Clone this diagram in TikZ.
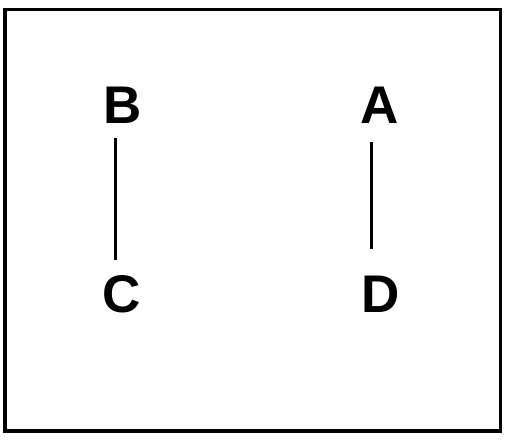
\documentclass[tikz,border=0pt]{standalone}
\usepackage{fontspec}
\setmainfont{Liberation Sans}
\begin{document}
\begin{tikzpicture}[x=1pt,y=-1pt,
  lbl/.style={font=\fontsize{53}{53}\selectfont\bfseries, inner sep=0pt, text height=38pt, text depth=0pt, anchor=south},
  link/.style={line width=3pt}]
\useasboundingbox (0,0) rectangle (507,442);
\draw[line width=3.3pt] (5,9.5) rectangle (500.5,431);
\node[lbl] (b) at (123,124) {B};
\node[lbl] (a) at (380,124) {A};
\node[lbl] (c) at (122,313) {C};
\node[lbl] (d) at (381,313) {D};
\draw[link, shorten <=14pt, shorten >=15pt] (b.south -| 115,0) -- (c.north -| 115,0);
\draw[link, shorten <=18pt, shorten >=26pt] (a.south -| 371,0) -- (d.north -| 371,0);
\end{tikzpicture}
\end{document}
